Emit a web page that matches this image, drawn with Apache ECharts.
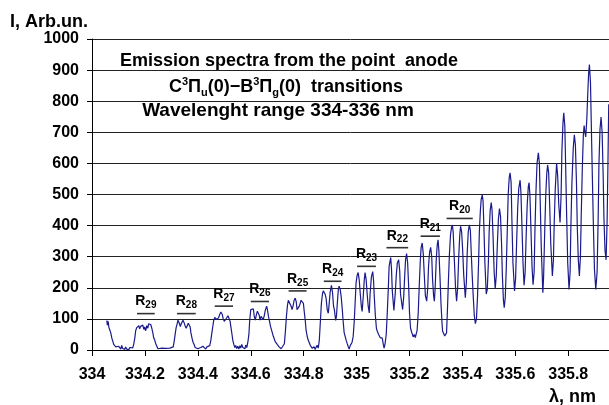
<!DOCTYPE html>
<html>
<head>
<meta charset="utf-8">
<script src="https://cdn.jsdelivr.net/npm/echarts@6/dist/echarts.min.js"></script>
<style>
  html, body { margin: 0; padding: 0; background: #fff; }
  #chart { width: 609px; height: 405px; }
</style>
</head>
<body>
<div id="chart"></div>
<script>
// spectrum, wavelength in nm
var wavelength = [
  334.056,334.058,334.061,334.064,334.067,334.071,334.075,334.078,334.082,334.086,334.090,334.093,334.097,334.101,334.105,334.109,334.112,334.116,334.120,334.124,334.127,334.131,334.135,334.139,334.143,334.146,334.150,334.154,334.158,
  334.162,334.165,334.169,334.173,334.177,334.180,334.184,334.188,334.192,334.196,334.199,334.203,334.207,334.211,334.214,334.218,334.222,334.226,334.230,334.233,334.237,334.241,334.245,334.249,334.252,334.256,334.264,334.271,334.279,334.286,334.294,334.301,
  334.307,334.311,334.315,334.318,334.322,334.325,334.330,334.334,334.337,334.341,334.344,334.348,334.352,334.356,334.360,334.364,334.367,334.371,334.374,334.378,334.382,334.387,334.390,334.396,334.400,334.404,334.407,334.411,334.415,334.419,334.422,334.426,334.430,334.434,334.438,334.441,
  334.445,334.449,334.453,334.457,334.460,334.464,334.468,334.472,334.475,334.479,334.483,334.487,334.489,334.492,334.496,334.500,334.504,334.508,334.511,334.514,334.518,334.522,334.526,334.530,334.532,334.536,334.540,334.543,334.547,334.551,334.555,334.559,334.562,334.566,334.570,334.574,334.578,334.581,334.585,334.589,
  334.593,334.596,334.600,334.603,334.606,334.610,334.613,334.617,334.621,334.625,334.628,334.632,334.635,334.639,334.643,334.647,334.651,334.655,334.660,334.663,334.667,334.671,334.675,334.680,334.685,334.688,334.692,334.696,334.700,334.703,334.707,334.711,334.715,334.719,334.722,
  334.727,334.731,334.735,334.739,334.742,334.745,334.749,334.753,334.756,334.760,334.764,334.768,334.772,334.775,334.779,334.783,334.787,334.790,334.796,334.799,334.802,334.806,334.809,334.813,334.817,334.821,334.825,334.828,334.832,334.836,334.840,334.843,334.847,334.851,334.855,
  334.859,334.863,334.867,334.871,334.874,334.877,334.881,334.885,334.889,334.893,334.896,334.900,334.905,334.909,334.913,334.916,334.921,334.924,334.928,334.931,334.934,334.938,334.942,334.946,334.949,334.953,334.957,334.961,334.964,334.968,334.972,334.976,334.980,334.983,334.987,
  334.991,334.995,334.998,335.002,335.006,335.010,335.014,335.018,335.021,335.025,335.029,335.032,335.036,335.040,335.044,335.048,335.051,335.056,335.061,335.064,335.067,335.071,335.075,335.078,335.082,335.085,335.089,335.093,335.097,335.101,335.104,335.108,
  335.112,335.116,335.120,335.123,335.129,335.132,335.135,335.141,335.146,335.150,335.154,335.159,335.163,335.166,335.174,335.178,335.182,335.185,335.189,335.193,335.197,335.200,335.204,335.208,335.211,335.214,335.218,335.222,335.225,335.229,
  335.233,335.237,335.241,335.244,335.248,335.252,335.256,335.260,335.265,335.269,335.272,335.276,335.280,335.284,335.287,335.291,335.294,335.297,335.301,335.305,335.308,335.311,335.315,335.319,335.323,335.325,335.329,335.333,335.336,335.340,
  335.343,335.347,335.351,335.355,335.359,335.362,335.365,335.369,335.374,335.378,335.382,335.386,335.390,335.393,335.397,335.401,335.405,335.411,335.415,335.418,335.422,335.426,335.430,335.433,335.437,335.441,335.445,335.449,335.453,
  335.457,335.461,335.464,335.468,335.471,335.475,335.478,335.481,335.485,335.490,335.494,335.498,335.501,335.505,335.509,335.512,335.516,335.520,335.524,335.528,335.532,335.536,335.540,335.544,335.548,335.551,335.555,335.558,335.562,335.566,
  335.570,335.573,335.577,335.580,335.584,335.587,335.591,335.597,335.601,335.605,335.609,335.613,335.618,335.621,335.625,335.629,335.633,335.637,335.641,335.645,335.649,335.652,335.655,335.659,335.663,335.667,
  335.671,335.674,335.678,335.682,335.687,335.691,335.694,335.698,335.704,335.707,335.711,335.715,335.719,335.722,335.726,335.730,335.734,335.740,335.744,335.747,
  335.751,335.756,335.760,335.764,335.769,335.773,335.776,335.780,335.783,335.787,335.790,335.794,335.798,335.803,335.807,335.810,335.814,335.819,335.823,335.827,
  335.831,335.834,335.838,335.842,335.846,335.849,335.853,335.857,335.860,335.863,335.866,335.870,335.874,335.877,335.880,335.884,335.887,335.891,335.895,335.899,
  335.904,335.909,335.913,335.916,335.920,335.924,335.928,335.932,335.935,335.939,335.943,335.947,335.950,335.953
];
var intensity = [
  95,80,92,72,65,55,38,30,18,22,10,14,4,12,6,3,15,5,8,2,10,3,6,1,8,4,12,7,20,
  40,62,72,70,78,68,76,72,80,66,74,62,78,70,84,88,82,70,55,40,32,20,12,4,8,2,6,1,5,2,6,3,
  10,30,55,72,85,96,86,75,84,90,96,88,78,70,78,86,86,74,55,38,25,15,8,12,4,10,3,8,2,12,6,9,3,10,5,8,
  14,30,55,78,95,105,111,98,92,105,115,122,127,115,100,92,96,102,108,110,109,92,68,45,32,18,8,15,5,12,3,14,6,18,8,12,4,16,8,25,
  50,95,130,135,128,132,110,96,112,125,130,112,96,108,104,98,110,128,141,130,108,92,75,60,45,38,28,30,18,22,10,12,4,8,2,
  20,60,110,145,160,166,155,140,130,142,160,167,155,130,125,140,150,160,162,150,125,95,65,45,32,28,15,18,6,0,10,2,8,15,6,
  30,90,150,180,190,192,180,165,130,118,145,185,208,185,140,130,95,110,160,195,205,195,170,130,95,56,50,30,22,12,3,14,8,25,43,
  90,160,215,240,249,225,180,140,124,170,225,249,228,180,140,119,180,235,252,225,170,110,70,61,52,55,40,35,38,18,6,22,
  50,120,200,270,297,260,190,127,180,240,280,290,255,180,130,170,240,290,310,280,200,120,70,58,62,42,50,40,45,65,
  120,210,290,330,344,310,240,175,157,200,270,315,330,300,230,175,157,200,290,340,354,320,240,150,85,61,55,45,39,55,
  120,220,310,370,395,402,380,300,200,157,200,300,370,398,380,320,240,168,220,310,380,402,385,320,240,170,110,85,100,
  170,280,380,450,485,498,480,400,280,180,195,280,380,450,474,450,360,250,198,240,340,420,455,430,340,240,160,136,170,270,
  400,500,555,570,540,420,280,190,230,350,460,520,546,510,400,280,208,250,370,470,525,538,500,390,270,210,
  250,380,510,600,634,600,480,330,184,240,380,500,570,595,570,460,340,238,290,410,
  520,601,560,470,410,500,640,730,763,720,600,430,280,195,250,400,540,650,692,660,
  540,400,290,238,300,430,580,690,722,700,685,740,830,890,918,860,730,560,400,260,
  195,250,420,600,710,749,700,560,420,320,290,420,600,790
];

// R-branch band markers: bar from..to at a given intensity level
var bandNames = ['29','28','27','26','25','24','23','22','21','20'];
var bandFrom  = [334.170,334.321,334.464,334.600,334.743,334.876,335.002,335.113,335.242,335.340];
var bandTo    = [334.237,334.392,334.533,334.669,334.811,334.943,335.073,335.195,335.315,335.439];
var bandLevel = [117,117,141,156,190,221,269,329,366,423];

var xMin = 334, xMax = 335.954, xStep = 0.2;
var yMin = 0, yMax = 1000, yStep = 100;

var FONT = "'Liberation Sans', Arial, sans-serif";

var chart = echarts.init(document.getElementById('chart'), null, {renderer: 'canvas'});

var spectrum = wavelength.map(function (w, i) { return [w, intensity[i]]; });
var bands = bandNames.map(function (n, i) { return [bandFrom[i], bandTo[i], bandLevel[i]]; });

var option = {
    animation: false,
    backgroundColor: '#fff',
    grid: {left: 92, right: 0, top: 39, bottom: 55, containLabel: false, outerBoundsMode: 'none'},
    xAxis: {
        type: 'value',
        min: xMin, max: xMax, interval: xStep,
        axisLine: {show: true, lineStyle: {color: '#000', width: 1}},
        axisTick: {show: true, length: 6, lineStyle: {color: '#000'}},
        axisLabel: {
            show: true, margin: 17, color: '#000', fontSize: 16, fontWeight: 'bold', fontFamily: FONT,
            showMaxLabel: false,
            formatter: function (v) { return String(Math.round(v * 10) / 10); }
        },
        splitLine: {show: false}
    },
    yAxis: {
        type: 'value',
        min: yMin, max: yMax, interval: yStep,
        axisLine: {show: true, lineStyle: {color: '#000', width: 1}},
        axisTick: {show: true, length: 5, lineStyle: {color: '#000'}},
        axisLabel: {
            margin: 13, color: '#000', fontSize: 16, fontWeight: 'bold', fontFamily: FONT,
            formatter: function (v) { return String(v); }
        },
        splitLine: {show: true, lineStyle: {color: '#222', width: 1}}
    },
    series: [
        {
            type: 'line',
            data: spectrum,
            showSymbol: false,
            symbol: 'none',
            smooth: false,
            lineStyle: {color: '#1a1a8c', width: 1.2},
            z: 3
        },
        {
            type: 'custom',
            data: bands,
            encode: {x: [0, 1], y: 2},
            z: 4,
            renderItem: function (params, api) {
                var a = api.coord([api.value(0), api.value(2)]);
                var b = api.coord([api.value(1), api.value(2)]);
                return {
                    type: 'group',
                    children: [
                        {
                            type: 'line',
                            shape: {x1: a[0], y1: a[1], x2: b[0], y2: b[1]},
                            style: {stroke: '#333', lineWidth: 1.6}
                        },
                        {
                            type: 'text',
                            x: (a[0] + b[0]) / 2,
                            y: a[1] - 12,
                            style: {
                                text: '{r|R}{s|' + bandNames[params.dataIndex] + '}',
                                align: 'center',
                                verticalAlign: 'middle',
                                fill: '#000',
                                fontSize: 14, fontWeight: 'bold', fontFamily: FONT,
                                lineHeight: 18,
                                rich: {
                                    r: {fontSize: 14, fontWeight: 'bold', fontFamily: FONT, fill: '#000', lineHeight: 18},
                                    s: {fontSize: 10, fontWeight: 'bold', fontFamily: FONT, fill: '#000', lineHeight: 7, verticalAlign: 'bottom'}
                                }
                            }
                        }
                    ]
                };
            }
        }
    ],
    graphic: [
        {
            type: 'text', left: 10, top: 13,
            style: {text: 'I, Arb.un.', fill: '#000', fontSize: 18, fontWeight: 'bold', fontFamily: FONT}
        },
        {
            type: 'text', left: 549, top: 388,
            style: {text: 'λ, nm', fill: '#000', fontSize: 18, fontWeight: 'bold', fontFamily: FONT}
        },
        {
            type: 'text', x: 289, y: 61,
            style: {
                text: 'Emission spectra from the point  anode', fill: '#000',
                fontSize: 18, fontWeight: 'bold', fontFamily: FONT, align: 'center', verticalAlign: 'middle'
            }
        },
        {
            type: 'text', x: 286, y: 87,
            style: {
                text: '{n|C}{sup|3}{n|Π}{sub|u}{n|(0)−B}{sup|3}{n|Π}{sub|g}{n|(0)  transitions}',
                fill: '#000', fontSize: 18, fontWeight: 'bold', fontFamily: FONT,
                align: 'center', verticalAlign: 'middle', lineHeight: 22,
                rich: {
                    n: {fontSize: 18, fontWeight: 'bold', fontFamily: FONT, fill: '#000', lineHeight: 22},
                    sup: {fontSize: 11, fontWeight: 'bold', fontFamily: FONT, fill: '#000', lineHeight: 11, verticalAlign: 'top'},
                    sub: {fontSize: 11, fontWeight: 'bold', fontFamily: FONT, fill: '#000', lineHeight: 11, verticalAlign: 'bottom'}
                }
            }
        },
        {
            type: 'text', x: 278, y: 111,
            style: {
                text: 'Wavelenght range 334-336 nm', fill: '#000',
                fontSize: 19, fontWeight: 'bold', fontFamily: FONT, align: 'center', verticalAlign: 'middle'
            }
        }
    ]
};

chart.setOption(option);
</script>
</body>
</html>
